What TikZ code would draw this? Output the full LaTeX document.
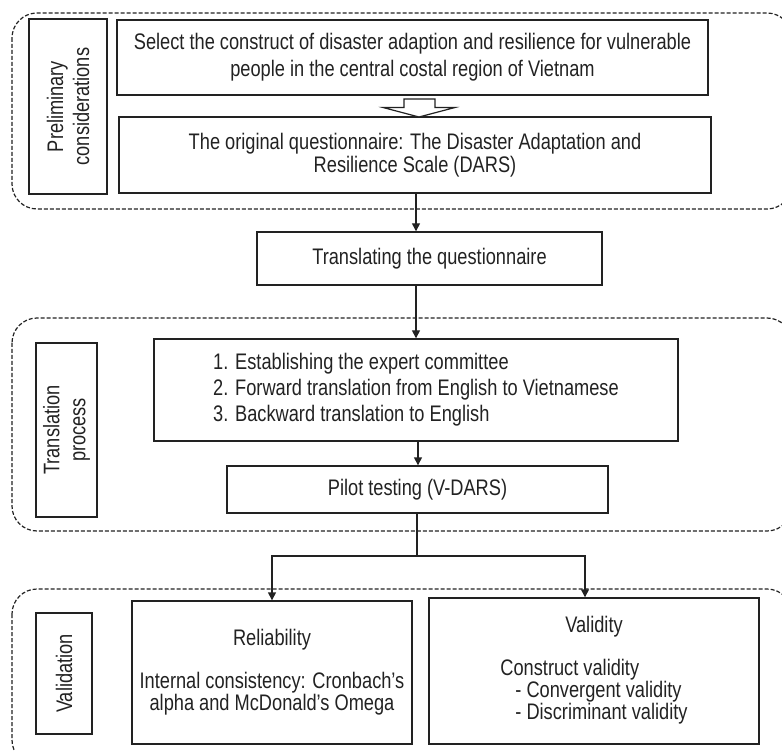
\documentclass[tikz,border=0pt]{standalone}
\usepackage{fontspec}
\setmainfont{Liberation Sans}[FakeStretch=0.81]
\usetikzlibrary{arrows.meta}
\definecolor{ink}{HTML}{222222}
\tikzset{
  box/.style={draw=ink, line width=1.4pt, text=ink, inner sep=0pt, align=center, font=\fontsize{22.5}{27}\selectfont},
  lab/.style={box, rotate=90, font=\fontsize{22.5}{26}\selectfont},
  grp/.style={draw=ink, line width=1.2pt, dash pattern=on 4pt off 2pt, rounded corners=25pt},
  conn/.style={draw=ink, line width=1.4pt},
  arr/.style={conn, -{Triangle[length=8pt,width=8pt]}},
}
\begin{document}
\begin{tikzpicture}[x=1pt,y=-1pt]
\useasboundingbox (0,0) rectangle (782,751);
\clip (0,0) rectangle (782,751);
% groups
\draw[grp] (12,13) rectangle (792,209);
\draw[grp] (12,318) rectangle (792,531);
\draw[grp] (12,589) rectangle (792,765);
% labels
\node[lab, minimum width=175, minimum height=78] (L1) at (68,106.5) {Preliminary\\considerations};
\node[lab, minimum width=174, minimum height=61] (L2) at (66.5,430) {Translation\\process};
\node[lab, minimum width=121, minimum height=56] (L3) at (64,673.5) {Validation};
% boxes
\node[box, minimum width=591, minimum height=75] (A) at (412.5,57.5)
  {Select the construct of disaster adaption and resilience for vulnerable\\people in the central costal region of Vietnam};
\node[box, minimum width=592, minimum height=76, font=\fontsize{22.5}{23}\selectfont] (B) at (415,155)
  {The original questionnaire: The Disaster Adaptation and\\Resilience Scale (DARS)};
\node[box, minimum width=345, minimum height=53] (T) at (429.5,258.5) {Translating the questionnaire};
\node[box, minimum width=524, minimum height=102, align=left, font=\fontsize{22.5}{26}\selectfont] (C) at (416,390)
  {1. Establishing the expert committee\\2. Forward translation from English to Vietnamese\\3. Backward translation to English};
\node[box, minimum width=381, minimum height=47] (P) at (417.5,489.5) {Pilot testing (V-DARS)};
\node[box, minimum width=280, minimum height=143, font=\fontsize{22.5}{19}\selectfont] (R) at (272,672.5)
  {Reliability\\[21pt]Internal consistency: Cronbach's\\alpha and McDonald's Omega};
\node[box, minimum width=330, minimum height=146, font=\fontsize{22.5}{19}\selectfont] (V) at (594,671)
  {Validity\\[21pt]\begin{tabular}{@{}l@{}}Construct validity\\\hspace{15pt}- Convergent validity\\\hspace{15pt}- Discriminant validity\end{tabular}};
% hollow arrow
\draw[conn, line width=1.2pt, fill=white] (404,99) -- (435,99) -- (435,107.5) -- (455,107.5) -- (419,117) -- (383,107.5) -- (404,107.5) -- cycle;
% connectors
\coordinate (cx) at (416,0);
\coordinate (cx2) at (418,0);
\coordinate (vx) at (585,0);
\coordinate (split) at (417,556);
\draw[arr] (B.south -| cx) -- (T.north -| cx);
\draw[arr] (T.south -| cx) -- (C.north -| cx);
\draw[arr] (C.south -| cx2) -- (P.north -| cx2);
\draw[conn] (P.south -| split) -- (split);
\draw[arr] (split) -| (R.north);
\draw[arr] (split) -| (V.north -| vx);
\end{tikzpicture}
\end{document}
